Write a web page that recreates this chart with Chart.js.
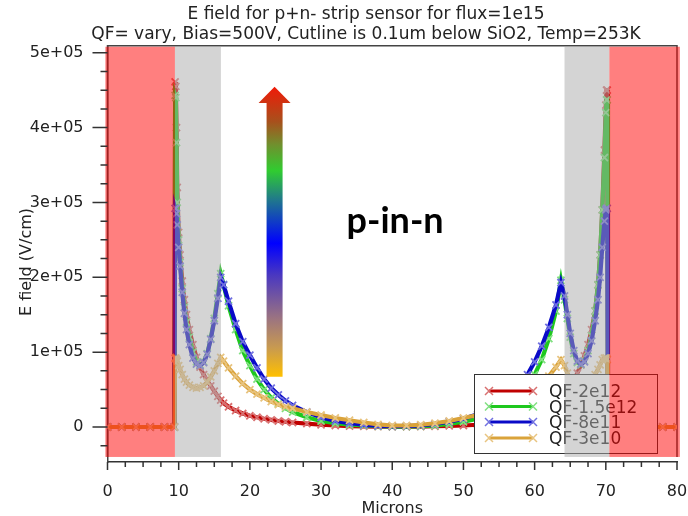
<!DOCTYPE html>
<html><head><meta charset="utf-8">
<script src="https://cdn.jsdelivr.net/npm/chart.js@4/dist/chart.umd.min.js"></script>
<style>html,body{margin:0;padding:0;background:#fff}</style>
</head><body>
<canvas id="c" width="688" height="516"></canvas>
<script>
// ---------------- data ----------------
const microns = [0,2,4,6,8,9.4,9.5,9.6,9.7,9.8,10.0,10.2,10.5,10.8,11.1,11.5,12.0,12.5,13.0,13.5,14.0,14.5,15.0,15.5,15.9,16.3,17,18,19,20,21,22,23,24,25,26,28,30,32,34,36,38,40,42,44,46,48,50,52,54,55,56,57,58,59,60,61,62,63,63.7,64.2,64.6,65.0,65.5,66.0,66.5,67.0,67.5,68.0,68.5,68.9,69.2,69.5,69.8,70.0,70.1,70.2,70.3,72,74,76,78,80];

const qf2e12 = [0,0,0,0,0,0,461000,455000,400000,320000,260000,230000,195000,170000,150000,130000,110000,93000,80000,70000,62000,55000,48000,41000,36000,32000,27000,22000,18000,15000,13000,11000,9500,8000,7000,6000,4500,3000,2000,1200,800,500,400,400,600,1000,1500,2000,3000,4500,5500,6500,8000,10000,12000,15000,18000,23000,30000,37000,42000,48000,55000,63000,72000,83000,95000,110000,130000,155000,190000,230000,290000,370000,430000,450000,450000,0,0,0,0,0,0];

const qf15e12 = [0,0,0,0,0,0,443000,440000,380000,300000,250000,220000,185000,160000,140000,120000,100000,87000,83000,87000,98000,118000,145000,178000,205000,190000,162000,130000,102000,82000,64000,50000,39000,31000,25000,20000,13000,8000,5000,3000,2000,1000,500,600,1000,2000,4000,7000,11000,17000,21000,26000,33000,42000,54000,70000,90000,118000,155000,196000,170000,145000,120000,98000,86000,83000,88000,102000,122000,155000,190000,230000,290000,360000,420000,437000,437000,0,0,0,0,0,0];

const qf8e11 = [0,0,0,0,0,0,292000,292000,285000,270000,240000,215000,180000,152000,130000,110000,92000,84000,82000,86000,97000,117000,142000,172000,200000,190000,168000,138000,114000,96000,79000,64000,52000,43000,35000,29000,20000,13000,8000,5000,3000,1500,1000,1200,2000,4000,7000,11000,17000,25000,30000,37000,46000,57000,70000,87000,108000,133000,163000,193000,175000,150000,125000,102000,88000,84000,87000,98000,115000,142000,170000,200000,240000,275000,290000,292000,292000,0,0,0,0,0,0];

const qf3e10 = [0,0,0,0,0,0,92000,92000,90000,88000,82000,77000,70000,64000,60000,56000,53000,52000,53000,55000,60000,67000,75000,85000,93000,88000,79000,68000,58000,50000,44000,39000,34000,30000,27000,25000,20000,16000,12000,9000,6000,3500,2000,2000,3000,5000,8000,12000,16000,22000,25000,29000,33000,38000,44000,50000,58000,68000,80000,90000,82000,72000,64000,58000,55000,54000,55000,58000,63000,70000,77000,83000,90000,92000,92000,92000,90000,0,0,0,0,0,0];

const seriesNames = ['QF-2e12','QF-1.5e12','QF-8e11','QF-3e10'];
const seriesValues = [qf2e12, qf15e12, qf8e11, qf3e10];

// tick positions
const xTicks = [0,2.5,5,7.5,10,12.5,15,17.5,20,22.5,25,27.5,30,32.5,35,37.5,40,42.5,45,47.5,50,52.5,55,57.5,60,62.5,65,67.5,70,72.5,75,77.5,80];
const xLabelled = [0,10,20,30,40,50,60,70,80];
const yTicks = [-25000,0,25000,50000,75000,100000,125000,150000,175000,200000,225000,250000,275000,300000,325000,350000,375000,400000,425000,450000,475000,500000];
const yLabels = { 0: '0', 100000: '1e+05', 200000: '2e+05', 300000: '3e+05', 400000: '4e+05', 500000: '5e+05' };

// shaded regions (microns)
const redRegions = [[-0.3, 9.47], [70.5, 80.4]];
const grayRegions = [[9.47, 15.93], [64.2, 70.5]];

// ---------------- styles ----------------
const lineColors = ['#c00000', '#1ec81e', '#0a0ac8', '#daa33a'];
const markColors = ['#d87070', '#80e080', '#7070e0', '#e8c480'];
const FONT = 'DejaVu Sans';

const datasets = seriesValues.map((vals, i) => ({
  label: seriesNames[i],
  data: microns.map((x, j) => ({ x: x, y: vals[j] })),
  borderColor: lineColors[i],
  backgroundColor: lineColors[i],
  borderWidth: 4.2,
  pointStyle: 'crossRot',
  pointRadius: 5,
  pointBorderWidth: 1.8,
  pointBorderColor: markColors[i],
  pointBackgroundColor: markColors[i],
  tension: 0,
  order: seriesNames.length - i
}));

function drawCross(ctx, cx, cy, r, color) {
  ctx.strokeStyle = color; ctx.lineWidth = 1.5;
  ctx.beginPath();
  ctx.moveTo(cx - r, cy - r); ctx.lineTo(cx + r, cy + r);
  ctx.moveTo(cx - r, cy + r); ctx.lineTo(cx + r, cy - r);
  ctx.stroke();
}

function noPad(s) { s.paddingLeft = 0; s.paddingRight = 0; s.paddingTop = 0; s.paddingBottom = 0; }

const decor = {
  id: 'decor',
  beforeDatasetsDraw(chart) {
    const { ctx, chartArea: a, scales: { y } } = chart;
    const yb = y.getPixelForValue(-40000);
    ctx.save();
    ctx.strokeStyle = '#444'; ctx.lineWidth = 1.5;
    ctx.beginPath();
    ctx.moveTo(a.left, yb); ctx.lineTo(a.left, a.top);
    ctx.lineTo(a.right, a.top); ctx.lineTo(a.right, yb);
    ctx.stroke();
    ctx.restore();
  },
  afterDatasetsDraw(chart) {
    const { ctx, chartArea: a, scales: { x, y } } = chart;
    ctx.save();
    // legend box
    const lx = 474.5, ly = 374.5, lw = 183, lh = 79;
    ctx.fillStyle = '#fff'; ctx.fillRect(lx, ly, lw, lh);
    ctx.strokeStyle = '#333'; ctx.lineWidth = 1; ctx.strokeRect(lx, ly, lw, lh);
    const rows = [391, 406.5, 422, 438];
    ctx.font = '17px "' + FONT + '"';
    ctx.textBaseline = 'middle'; ctx.textAlign = 'left';
    seriesNames.forEach((n, i) => {
      ctx.strokeStyle = lineColors[i]; ctx.lineWidth = 3;
      ctx.beginPath(); ctx.moveTo(489, rows[i]); ctx.lineTo(533, rows[i]); ctx.stroke();
      drawCross(ctx, 489, rows[i], 4, markColors[i]);
      drawCross(ctx, 533, rows[i], 4, markColors[i]);
      ctx.fillStyle = '#222';
      ctx.fillText(n, 549, rows[i] + 2);
    });
    // shaded regions drawn over data and legend
    const yTop = y.getPixelForValue(508000), yBot = y.getPixelForValue(-40000);
    ctx.fillStyle = 'rgba(169,169,169,0.5)';
    grayRegions.forEach(r => {
      const x0 = x.getPixelForValue(r[0]), x1 = x.getPixelForValue(r[1]);
      ctx.fillRect(x0, yTop, x1 - x0, yBot - yTop);
    });
    ctx.fillStyle = 'rgba(255,0,0,0.5)';
    redRegions.forEach(r => {
      const x0 = x.getPixelForValue(r[0]), x1 = x.getPixelForValue(r[1]);
      ctx.fillRect(x0, yTop, x1 - x0, yBot - yTop);
    });
    // gradient arrow
    const cx = x.getPixelForValue(23.47);
    const tip = y.getPixelForValue(454600), head = y.getPixelForValue(433000), bot = y.getPixelForValue(67200);
    const g = ctx.createLinearGradient(0, tip, 0, bot);
    g.addColorStop(0.0, '#f01a08');
    g.addColorStop(0.12, '#a8501c');
    g.addColorStop(0.2, '#70902e');
    g.addColorStop(0.29, '#30cc30');
    g.addColorStop(0.39, '#20788c');
    g.addColorStop(0.54, '#0000ff');
    g.addColorStop(0.65, '#4a38c0');
    g.addColorStop(0.8, '#9c7480');
    g.addColorStop(0.9, '#c89a50');
    g.addColorStop(1.0, '#ffc000');
    ctx.fillStyle = g;
    ctx.beginPath();
    ctx.moveTo(cx, tip);
    ctx.lineTo(cx + 16, head); ctx.lineTo(cx + 8, head); ctx.lineTo(cx + 8, bot);
    ctx.lineTo(cx - 8, bot); ctx.lineTo(cx - 8, head); ctx.lineTo(cx - 16, head);
    ctx.closePath(); ctx.fill();
    // annotation text
    ctx.fillStyle = '#000';
    ctx.font = 'bold 36px Lato';
    ctx.textAlign = 'center'; ctx.textBaseline = 'alphabetic';
    ctx.fillText('p-in-n', x.getPixelForValue(40.4), y.getPixelForValue(259000));
    ctx.restore();
  },
  afterDraw(chart) {
    const { ctx, chartArea: a, scales: { x, y } } = chart;
    ctx.save();
    ctx.strokeStyle = '#333'; ctx.lineWidth = 1.5;
    ctx.beginPath();
    yTicks.forEach(v => {
      const py = y.getPixelForValue(v);
      const major = v in yLabels;
      ctx.moveTo(a.left - (major ? 15 : 7), py); ctx.lineTo(a.left, py);
    });
    xTicks.forEach(v => {
      const px = x.getPixelForValue(v);
      const major = xLabelled.includes(v);
      ctx.moveTo(px, a.bottom); ctx.lineTo(px, a.bottom + (major ? 8 : 5));
    });
    ctx.stroke();
    // titles
    ctx.fillStyle = '#222';
    ctx.font = '17px "' + FONT + '"';
    ctx.textAlign = 'center'; ctx.textBaseline = 'middle';
    ctx.fillText('E field for p+n- strip sensor for flux=1e15', 366, 15);
    ctx.fillText('QF= vary, Bias=500V, Cutline is 0.1um below SiO2, Temp=253K', 366, 35);
    ctx.font = '16px "' + FONT + '"';
    ctx.fillText('Microns', (a.left + a.right) / 2, 509);
    ctx.translate(27, 262); ctx.rotate(-Math.PI / 2);
    ctx.fillText('E field (V/cm)', 0, 0);
    ctx.restore();
  }
};

new Chart(document.getElementById('c'), {
  type: 'line',
  data: { datasets: datasets },
  options: {
    responsive: false, animation: false, devicePixelRatio: 1, events: [],
    layout: { padding: { left: 0, top: 45.7, right: 11, bottom: 0 } },
    plugins: { legend: { display: false }, title: { display: false }, tooltip: { enabled: false } },
    scales: {
      x: {
        type: 'linear', min: 0, max: 80,
        afterBuildTicks(s) { s.ticks = xLabelled.map(v => ({ value: v })); },
        afterFit(s) { s.height = 54; noPad(s); },
        grid: { display: false },
        border: { display: true, color: '#333', width: 1.5 },
        ticks: {
          autoSkip: false, maxRotation: 0, minRotation: 0, padding: 12,
          color: '#222', font: { family: FONT, size: 16 },
          callback: v => String(v)
        }
      },
      y: {
        type: 'linear', min: -46750, max: 509400,
        afterBuildTicks(s) { s.ticks = Object.keys(yLabels).map(k => ({ value: Number(k) })); },
        afterFit(s) { s.width = 107.5; noPad(s); },
        grid: { display: false },
        border: { display: true, color: '#444', width: 1.5 },
        ticks: {
          autoSkip: false, padding: 16,
          color: '#222', font: { family: FONT, size: 16 },
          callback: v => yLabels[v]
        }
      }
    }
  },
  plugins: [decor]
});
</script>
</body></html>
